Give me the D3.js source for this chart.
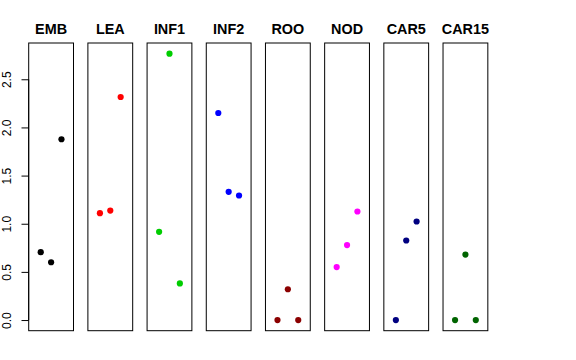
<!DOCTYPE html>
<html><head><meta charset="utf-8">
<script src="https://cdn.jsdelivr.net/npm/d3@7"></script>
<style>body{margin:0;background:#fff}svg{display:block}</style>
</head><body>
<svg id="c" width="576" height="360"></svg>
<script>
const categories = ["EMB","LEA","INF1","INF2","ROO","NOD","CAR5","CAR15"];
const colors = ["#000000","#FF0000","#00CD00","#0000FF","#8B0000","#FF00FF","#000080","#006400"];
const valuesEMB = [0.705, 0.60, 1.877];
const valuesLEA = [1.11, 1.137, 2.316];
const valuesINF1 = [0.916, 2.766, 0.38];
const valuesINF2 = [2.150, 1.331, 1.293];
const valuesROO = [0.0, 0.32, 0.0];
const valuesNOD = [0.55, 0.778, 1.127];
const valuesCAR5 = [0.0, 0.826, 1.023];
const valuesCAR15 = [0.0, 0.68, 0.0];
const series = [valuesEMB, valuesLEA, valuesINF1, valuesINF2, valuesROO, valuesNOD, valuesCAR5, valuesCAR15];
const yTicks = [0, 0.5, 1, 1.5, 2, 2.5];
const yTickLabels = ["0.0","0.5","1.0","1.5","2.0","2.5"];

(function() {
const svg = d3.select("#c");
const pTop = 43, pBottom = 330.7, panelW = 44.8, step = 59.19, left0 = 28.7;
const yMax = d3.max(series.flat());
const ext = 0.04 * yMax;
const y = d3.scaleLinear().domain([-ext, yMax + ext]).range([pBottom, pTop]);

categories.forEach((cat, i) => {
  const l = left0 + i * step;
  const x = d3.scaleLinear().domain([-0.16, 4.16]).range([l, l + panelW]);
  const g = svg.append("g");
  g.append("rect").attr("x", l).attr("y", pTop).attr("width", panelW).attr("height", pBottom - pTop)
    .attr("fill", "none").attr("stroke", "#000").attr("stroke-width", 1);
  g.append("text").attr("x", l + panelW / 2).attr("y", 34.3).attr("text-anchor", "middle")
    .attr("font-family", "Liberation Sans, Arial, sans-serif").attr("font-weight", "bold")
    .attr("font-size", "14.4px").text(cat);
  g.selectAll("circle").data(series[i]).join("circle")
    .attr("cx", (d, j) => x(j + 1)).attr("cy", d => y(d)).attr("r", 3.1)
    .attr("fill", colors[i]);
  if (i === 0) {
    const axis = d3.axisLeft(y).tickValues(yTicks).tickSize(7.2).tickPadding(3)
      .tickFormat((d, k) => yTickLabels[k]);
    const ag = svg.append("g").attr("transform", `translate(${l},0)`).call(axis);
    ag.select(".domain").attr("d", `M0,${y(0)}V${y(2.5)}`).attr("stroke", "#000");
    ag.selectAll(".tick line").attr("stroke", "#000");
    ag.selectAll(".tick text")
      .attr("font-family", "Liberation Sans, Arial, sans-serif").attr("font-size", "12px")
      .attr("fill", "#000")
      .attr("text-anchor", "middle").attr("dy", null)
      .attr("transform", "translate(-21,0) rotate(-90)")
      .attr("x", 0).attr("y", 0).attr("dominant-baseline", "middle");
  }
});
})();
</script>
</body></html>
